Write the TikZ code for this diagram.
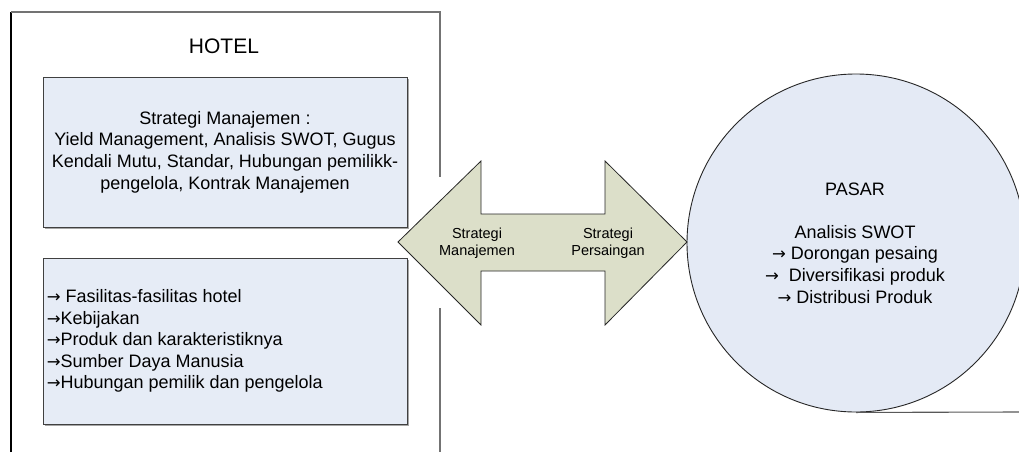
\documentclass[tikz,border=0pt]{standalone}
\usepackage{fontspec}
\setmainfont{Liberation Sans}
\newfontfamily\arrowfont{DejaVu Sans}
\newcommand\rarr{{\arrowfont\fontsize{16.5}{21.6}\selectfont →}}
\begin{document}
\begin{tikzpicture}[x=1pt,y=-1pt,
  frame/.style={draw=black!55,line width=1.1pt},
  infobox/.style={draw=black!75,line width=0.9pt,fill=boxblue},
  txt/.style={font=\fontsize{18}{21.6}\selectfont,inner sep=0pt},
  small/.style={font=\fontsize{14.5}{17}\selectfont,inner sep=0pt,align=center}]
\definecolor{boxblue}{HTML}{E6ECF6}
\definecolor{pasarblue}{HTML}{E4EAF5}
\definecolor{arrowfill}{HTML}{DCDFC9}
\useasboundingbox (0,0) rectangle (1019,452);
\clip (0,0) rectangle (1019,452);
\fill[white] (0,0) rectangle (1019,452);

% hotel frame (open at the bottom, broken on the right for the arrow)
\draw[line width=1.1pt,black] (11,452) -- (11,12);
\draw[frame] (11,12) -- (440,12) -- (440,177);
\draw[frame] (440,308) -- (440,452);
\node[font=\fontsize{21}{25}\selectfont,inner sep=0pt] (hotel) at (224,46) {HOTEL};

% management strategy box
\fill[black!35] (45,79) rectangle (409,229);
\node[infobox,minimum width=364pt,minimum height=150pt,inner sep=0pt] (mgmt) at (225,152) {};
\node[txt,align=center] (mgmttext) at (mgmt.center) {Strategi Manajemen :\\Yield Management, Analisis SWOT, Gugus\\Kendali Mutu, Standar, Hubungan pemilikk-\\pengelola, Kontrak Manajemen};

% internal factors box
\fill[black!35] (45,260) rectangle (409,426);
\node[infobox,minimum width=364pt,minimum height=166pt,inner sep=0pt] (factors) at (225,341) {};
\node[txt,align=left,anchor=west] (factorstext) at ([xshift=4pt]factors.west) {\rarr\ Fasilitas-fasilitas hotel\\\rarr Kebijakan\\\rarr Produk dan karakteristiknya\\\rarr Sumber Daya Manusia\\\rarr Hubungan pemilik dan pengelola};

% market circle
\node[circle,draw=black!85,line width=0.9pt,fill=pasarblue,minimum size=338pt,inner sep=0pt] (pasar) at (856,243) {};
\draw[line width=1.1pt,black!65] (pasar.south) -- (1019,412);
\node[txt,align=center] (pasartext) at (855,243) {PASAR\\\mbox{}\\Analisis SWOT\\\rarr\ Dorongan pesaing\\\rarr\ \ Diversifikasi produk\\\rarr\ Distribusi Produk};

% two-headed strategy arrow
\draw[draw=black!85,line width=0.8pt,fill=arrowfill,line join=miter]
  (398,242) -- (481,161) -- (481,214) -- (605,214) -- (605,161) -- (687,242)
  -- (605,325) -- (605,271) -- (481,271) -- (481,325) -- cycle;
\node[small] (mgmtlabel) at (477,243) {Strategi\\Manajemen};
\node[small] (complabel) at (608,243) {Strategi\\Persaingan};
\end{tikzpicture}
\end{document}
